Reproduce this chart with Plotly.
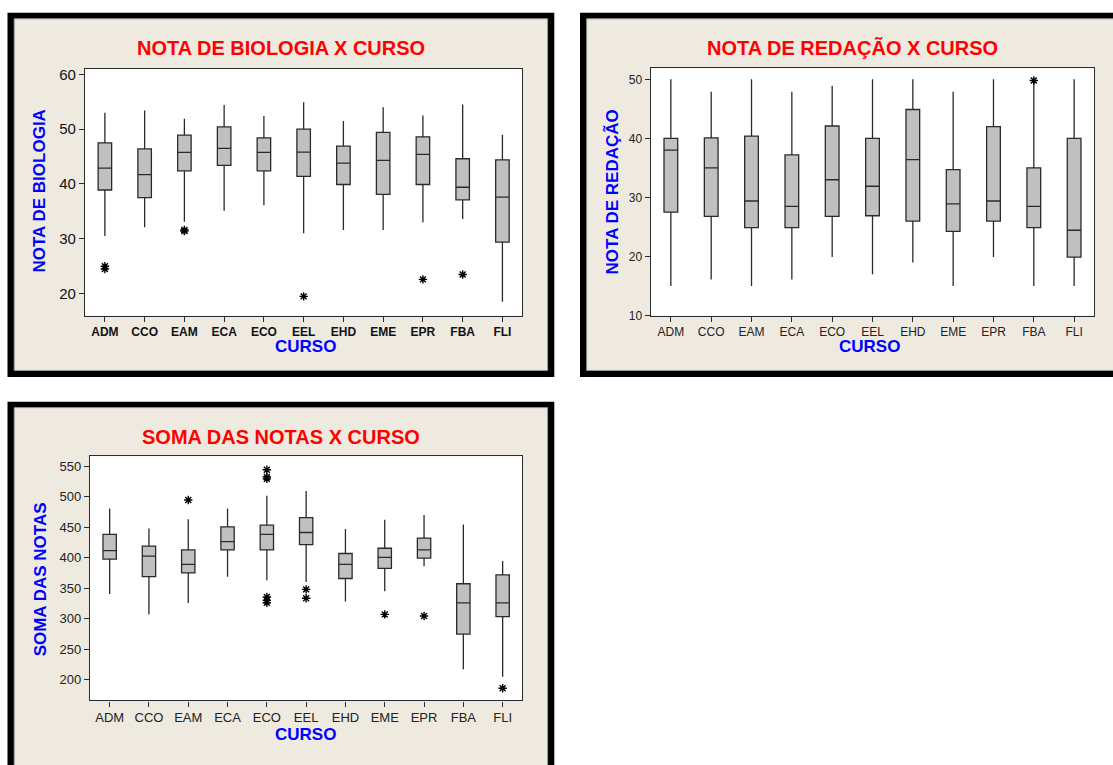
import plotly.graph_objects as go

W, H = 1113, 765

cursos = ["ADM", "CCO", "EAM", "ECA", "ECO", "EEL", "EHD", "EME", "EPR", "FBA", "FLI"]

# NOTA DE BIOLOGIA
bio_low = [30.5, 32.1, 33.1, 35.1, 36.1, 31.0, 31.6, 31.6, 33.0, 33.6, 18.5]
bio_q1 = [38.9, 37.5, 42.4, 43.4, 42.4, 41.4, 39.9, 38.1, 39.9, 37.1, 29.4]
bio_med = [42.9, 41.7, 45.75, 46.5, 45.75, 45.8, 43.8, 44.3, 45.4, 39.4, 37.6]
bio_q3 = [47.5, 46.4, 48.9, 50.4, 48.4, 50.0, 46.9, 49.4, 48.6, 44.6, 44.4]
bio_high = [53.0, 53.4, 51.9, 54.4, 52.4, 54.9, 51.5, 54.0, 52.5, 54.5, 49.0]
bio_out_x = ["ADM", "ADM", "EAM", "EAM", "EEL", "EPR", "FBA"]
bio_out_y = [25.0, 24.5, 31.6, 31.4, 19.5, 22.6, 23.5]

# NOTA DE REDAÇÃO
red_low = [15.0, 16.1, 15.0, 16.1, 19.9, 17.0, 19.0, 15.0, 19.9, 15.0, 15.0]
red_q1 = [27.5, 26.8, 24.9, 24.9, 26.8, 26.9, 26.0, 24.25, 26.0, 24.9, 19.9]
red_med = [38.0, 35.0, 29.4, 28.5, 33.0, 31.9, 36.4, 28.9, 29.4, 28.5, 24.45]
red_q3 = [40.0, 40.1, 40.4, 37.2, 42.1, 40.0, 44.9, 34.7, 42.0, 35.0, 40.0]
red_high = [50.0, 47.9, 50.0, 47.9, 48.9, 50.0, 50.0, 47.9, 50.0, 49.4, 50.0]
red_out_x = ["FBA"]
red_out_y = [49.8]

# SOMA DAS NOTAS
soma_low = [340.5, 307.0, 325.5, 368.5, 363.0, 360.0, 328.0, 345.0, 386.0, 217.0, 205.0]
soma_q1 = [397.6, 369.0, 375.0, 412.7, 412.7, 421.3, 365.8, 382.5, 399.2, 274.8, 303.4]
soma_med = [411.6, 402.5, 389.0, 426.1, 438.0, 441.2, 389.0, 400.3, 412.7, 326.0, 326.0]
soma_q3 = [438.0, 419.0, 412.7, 450.4, 453.1, 465.5, 406.8, 415.4, 432.0, 357.2, 371.8]
soma_high = [480.5, 447.7, 462.8, 480.5, 501.5, 509.0, 447.1, 462.2, 469.8, 454.1, 394.4]
soma_out_x = ["EAM", "ECO", "ECO", "ECO", "ECO", "ECO", "ECO", "EEL", "EEL", "EME", "EPR", "FLI"]
soma_out_y = [494.5, 544.0, 532.0, 529.0, 335.5, 330.0, 326.0, 348.0, 333.5, 307.0, 304.4, 186.0]

BEIGE = "#EEEAE0"
BOXFILL = "#C0C0C0"
LINE = "#2a2a2a"
FAM = "Liberation Sans, Arial, sans-serif"


def px(x):
    return x / W


def py(y):
    return 1 - y / H


fig = go.Figure()


def add_panel(xa, ya, low, q1, med, q3, high, ox, oy):
    fig.add_trace(go.Box(
        x=cursos, q1=q1, median=med, q3=q3, lowerfence=low, upperfence=high,
        xaxis=xa, yaxis=ya, width=0.34, whiskerwidth=0,
        fillcolor=BOXFILL, line=dict(color=LINE, width=1.3),
        boxpoints=False, showlegend=False, hoverinfo="skip"))
    fig.add_trace(go.Scatter(
        x=ox, y=oy, xaxis=xa, yaxis=ya, mode="markers",
        marker=dict(symbol="asterisk-open", size=7, color="black",
                    line=dict(color="black", width=1.4)),
        showlegend=False, hoverinfo="skip"))


add_panel("x", "y", bio_low, bio_q1, bio_med, bio_q3, bio_high, bio_out_x, bio_out_y)
add_panel("x2", "y2", red_low, red_q1, red_med, red_q3, red_high, red_out_x, red_out_y)
add_panel("x3", "y3", soma_low, soma_q1, soma_med, soma_q3, soma_high, soma_out_x, soma_out_y)

# plot areas (pixels): left, right, top, bottom
P1 = (85, 522.3, 66.7, 316.7)
P2 = (650.7, 1094.3, 66.0, 316.7)
P3 = (90, 522.3, 459.3, 706.7)


def xax(p, anchor, font):
    return dict(domain=[px(p[0]), px(p[1])], anchor=anchor, type="category",
                categoryorder="array", categoryarray=cursos, range=[-0.5, 10.5],
                showline=True, mirror=True, linecolor=LINE, linewidth=1.3,
                ticks="outside", ticklen=5, tickcolor=LINE, tickfont=font,
                showgrid=False, zeroline=False, fixedrange=True)


def yax(p, anchor, font, rng, tickvals):
    return dict(domain=[py(p[3]), py(p[2])], anchor=anchor, range=rng,
                tickvals=tickvals, showline=True, mirror=True, linecolor=LINE,
                linewidth=1.3, ticks="outside", ticklen=5, tickcolor=LINE,
                tickfont=font, showgrid=False, zeroline=False, fixedrange=True)


f1x = dict(family=FAM, size=12, color="#111")
f1y = dict(family=FAM, size=15, color="#111")
f2 = dict(family=FAM, size=12, color="#222")
f3 = dict(family=FAM, size=13, color="#222")

shapes = []


def frame(x0, y0, x1, y1, t=6.7):
    shapes.append(dict(type="rect", xref="paper", yref="paper", layer="below",
                       x0=px(x0), x1=px(x1), y0=py(y1), y1=py(y0),
                       fillcolor="black", line=dict(width=0)))
    shapes.append(dict(type="rect", xref="paper", yref="paper", layer="below",
                       x0=px(x0 + t), x1=px(x1 - t), y0=py(y1 - t), y1=py(y0 + 6),
                       fillcolor=BEIGE, line=dict(color="#9a9a9a", width=1)))


frame(7.5, 10, 554.3, 379)
frame(580, 10, 1125, 379)
frame(7.5, 404, 554.3, 800)
for p in (P1, P2, P3):
    shapes.append(dict(type="rect", xref="paper", yref="paper", layer="below",
                       x0=px(p[0]), x1=px(p[1]), y0=py(p[3]), y1=py(p[2]),
                       fillcolor="white", line=dict(width=0)))

TF = dict(family=FAM, size=20, color="#FF0000")
AF = dict(family=FAM, size=17, color="#0000FF")


def ann(text, x, y, font, angle=0):
    return dict(text="<b>%s</b>" % text, x=px(x), y=py(y), xref="paper", yref="paper",
                showarrow=False, xanchor="center", yanchor="middle", font=font,
                textangle=angle)


annotations = [
    ann("NOTA DE BIOLOGIA X CURSO", 281, 46, TF),
    ann("NOTA DE REDAÇÃO X CURSO", 852, 46, TF),
    ann("SOMA DAS NOTAS X CURSO", 281, 440, TF),
    ann("NOTA DE BIOLOGIA", 40, 191, AF, -90),
    ann("NOTA DE REDAÇÃO", 612, 192, AF, -90),
    ann("SOMA DAS NOTAS", 40, 584, AF, -90),
    ann("CURSO", 305, 348, AF),
    ann("CURSO", 869, 348, AF),
    ann("CURSO", 305, 741, AF),
]

fig.update_layout(
    width=W, height=H, margin=dict(l=0, r=0, t=0, b=0),
    paper_bgcolor="white", plot_bgcolor="white",
    xaxis=xax(P1, "y", f1x),
    yaxis=yax(P1, "x", f1y, [16, 61], [20, 30, 40, 50, 60]),
    xaxis2=xax(P2, "y2", f2),
    yaxis2=yax(P2, "x2", f2, [10, 51.9], [10, 20, 30, 40, 50]),
    xaxis3=xax(P3, "y3", f3),
    yaxis3=yax(P3, "x3", f3, [166, 566], [200, 250, 300, 350, 400, 450, 500, 550]),
    shapes=shapes, annotations=annotations, showlegend=False,
)
fig.layout.xaxis.tickprefix = "<b>"
fig.layout.xaxis.ticksuffix = "</b>"
fig.layout.yaxis.tickprefix = "<b>"
fig.layout.yaxis.ticksuffix = "</b>"

post = """
var h=document.documentElement, b=document.body;
h.style.margin='0'; h.style.padding='0'; h.style.overflow='hidden';
b.style.margin='0'; b.style.padding='0'; b.style.overflow='hidden';
"""
fig.write_html("out.html", config={"displayModeBar": False}, post_script=post)
